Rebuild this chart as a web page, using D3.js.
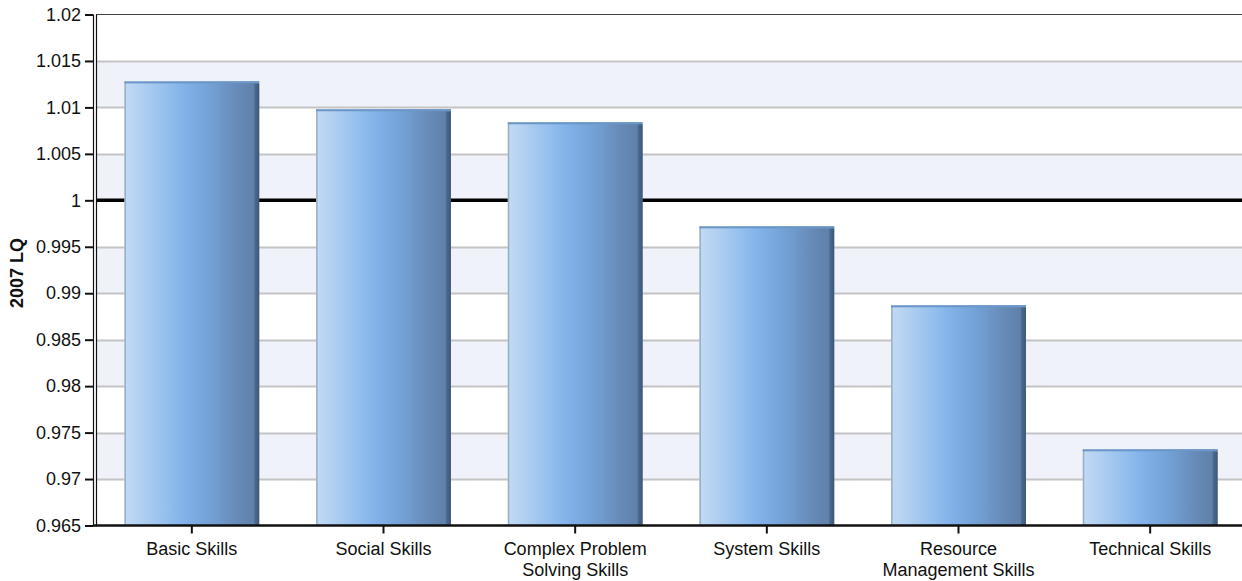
<!DOCTYPE html>
<html>
<head>
<meta charset="utf-8">
<script src="https://cdn.jsdelivr.net/npm/d3@7"></script>
<style>
  html, body { margin: 0; padding: 0; background: #ffffff; }
  svg { display: block; }
  text { font-family: "Liberation Sans", Arial, sans-serif; fill: #111; }
</style>
</head>
<body>
<svg id="chart" width="1242" height="581"></svg>
<script>
const categories = [
  ["Basic Skills"],
  ["Social Skills"],
  ["Complex Problem", "Solving Skills"],
  ["System Skills"],
  ["Resource", "Management Skills"],
  ["Technical Skills"]
];
const values = [1.0128, 1.0098, 1.0084, 0.9972, 0.9887, 0.9732];
const yTicks = [0.965, 0.97, 0.975, 0.98, 0.985, 0.99, 0.995, 1, 1.005, 1.01, 1.015, 1.02];
const yTickLabels = ["0.965", "0.97", "0.975", "0.98", "0.985", "0.99", "0.995", "1", "1.005", "1.01", "1.015", "1.02"];
const yTitle = "2007 LQ";
const referenceValue = 1;

(function () {
const svg = d3.select("#chart");
const pL = 96, pR = 1242, pT = 14.5, pB = 525.5;
const keys = categories.map(c => c.join(" "));

const x = d3.scaleBand().domain(keys).range([pL, 1246]).paddingInner(0.297).paddingOuter(0.1485);
const y = d3.scaleLinear().domain([yTicks[0], yTicks[yTicks.length - 1]]).range([pB, pT]);

const defs = svg.append("defs");
const g1 = defs.append("linearGradient").attr("id", "barGrad").attr("x1", "0").attr("x2", "1").attr("y1", "0").attr("y2", "0");
[["0%", "#c2daf4"], ["12%", "#b2d0f1"], ["30%", "#96c0ee"], ["45%", "#80b1e8"], ["65%", "#72a0d4"], ["85%", "#6689b6"], ["100%", "#5c7ea6"]]
  .forEach(([o, c]) => g1.append("stop").attr("offset", o).attr("stop-color", c));
const g2 = defs.append("linearGradient").attr("id", "edgeGrad").attr("x1", "0").attr("x2", "1").attr("y1", "0").attr("y2", "0");
[["0%", "#4f6e94"], ["100%", "#3c5677"]].forEach(([o, c]) => g2.append("stop").attr("offset", o).attr("stop-color", c));

// alternating bands
for (let i = 0; i < yTicks.length - 1; i++) {
  if (i % 2 === 1) {
    svg.append("rect")
      .attr("x", pL).attr("width", pR - pL)
      .attr("y", y(yTicks[i + 1])).attr("height", y(yTicks[i]) - y(yTicks[i + 1]))
      .attr("fill", "#eff2f8");
  }
}
// gridlines
svg.append("g").selectAll("line").data(yTicks.slice(1, -1)).join("line")
  .attr("x1", pL).attr("x2", pR)
  .attr("y1", d => Math.round(y(d)) + 0.5).attr("y2", d => Math.round(y(d)) + 0.5)
  .attr("stroke", "#c4c4c4").attr("stroke-width", 2);

// top border
svg.append("line").attr("x1", pL).attr("x2", pR).attr("y1", pT).attr("y2", pT)
  .attr("stroke", "#444").attr("stroke-width", 1);

// reference line at 1
svg.append("line").attr("x1", pL).attr("x2", pR)
  .attr("y1", y(referenceValue)).attr("y2", y(referenceValue))
  .attr("stroke", "#000").attr("stroke-width", 3.5);

// bars
const bars = svg.append("g").selectAll("g").data(values).join("g")
  .attr("transform", (d, i) => `translate(${x(keys[i])},0)`);
const bw = x.bandwidth();
bars.append("rect")
  .attr("x", 0).attr("width", bw)
  .attr("y", d => y(d)).attr("height", d => pB - y(d))
  .attr("fill", "url(#barGrad)");
bars.append("rect")
  .attr("x", bw - 5).attr("width", 5)
  .attr("y", d => y(d) + 2).attr("height", d => pB - y(d) - 2)
  .attr("fill", "url(#edgeGrad)");
bars.append("rect")
  .attr("x", 0).attr("width", 1.5)
  .attr("y", d => y(d)).attr("height", d => pB - y(d))
  .attr("fill", "#98aecb");
bars.append("rect")
  .attr("x", 0).attr("width", bw)
  .attr("y", d => y(d)).attr("height", 2)
  .attr("fill", "#6c96c8");

// left axis (double line)
svg.append("line").attr("x1", 93.5).attr("x2", 93.5).attr("y1", pT).attr("y2", pB + 1).attr("stroke", "#111").attr("stroke-width", 1.2);
svg.append("line").attr("x1", 96.5).attr("x2", 96.5).attr("y1", pT).attr("y2", pB + 1).attr("stroke", "#111").attr("stroke-width", 1.2);

// y axis ticks and labels
const yAxis = d3.axisLeft(y).tickValues(yTicks).tickFormat((d, i) => yTickLabels[i]).tickSize(8).tickPadding(4);
const ya = svg.append("g").attr("transform", `translate(${93},0)`).call(yAxis);
ya.select(".domain").remove();
ya.selectAll(".tick line").attr("stroke", "#111").attr("stroke-width", 2);
ya.selectAll(".tick text").attr("font-size", 18).attr("fill", "#1a1a1a").style("font-family", "'Liberation Sans', Arial, sans-serif");

// bottom axis
svg.append("line").attr("x1", pL - 3).attr("x2", pR).attr("y1", pB).attr("y2", pB)
  .attr("stroke", "#111").attr("stroke-width", 2.5);
const xAxis = d3.axisBottom(x).tickSize(8).tickFormat("");
const xa = svg.append("g").attr("transform", `translate(0,${pB})`).call(xAxis);
xa.select(".domain").remove();
xa.selectAll(".tick line").attr("stroke", "#111").attr("stroke-width", 2);

// x labels
svg.append("g").selectAll("text").data(categories).join("text")
  .attr("x", (d, i) => x(keys[i]) + bw / 2)
  .attr("y", 555)
  .attr("text-anchor", "middle")
  .attr("font-size", 18)
  .attr("fill", "#1a1a1a")
  .each(function(d) {
    const t = d3.select(this);
    d.forEach((line, j) => {
      t.append("tspan").attr("x", t.attr("x")).attr("dy", j === 0 ? 0 : 21).text(line);
    });
  });

// y title
svg.append("text")
  .attr("transform", `translate(23,${273}) rotate(-90)`)
  .attr("text-anchor", "middle")
  .attr("font-size", 18)
  .attr("font-weight", "bold")
  .attr("fill", "#111")
  .text(yTitle);
})();
</script>
</body>
</html>
